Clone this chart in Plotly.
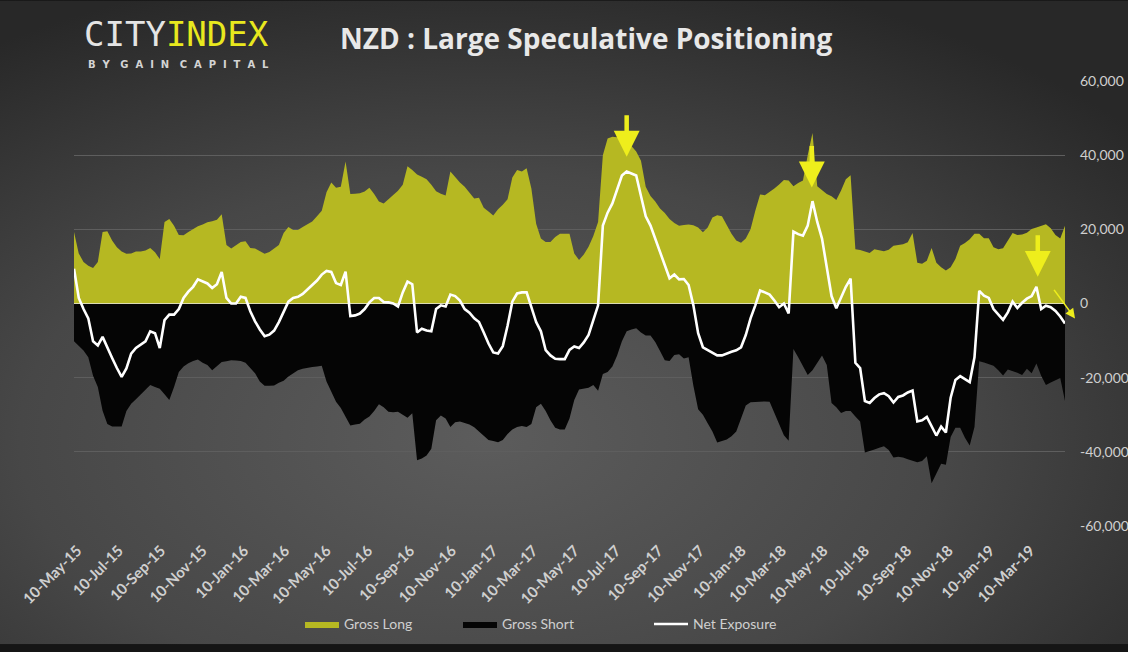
import base64
import pandas as pd
import plotly.graph_objects as go

# ---------------- data (thousands of contracts, weekly) ----------------
start_date = "2015-05-05"
n_weeks = 209
dates = pd.date_range(start_date, periods=n_weeks, freq="7D")

gross_long_k = [
    19.3, 13.5, 11.2, 10.2, 9.6, 11.2, 19.3, 19.5, 17.0, 15.2,
    14.0, 13.4, 13.5, 14.0, 14.0, 14.3, 15.0, 13.8, 12.0, 22.0,
    22.8, 21.0, 18.5, 18.4, 19.3, 20.1, 20.8, 21.3, 21.9, 22.2,
    22.6, 24.1, 15.8, 14.8, 15.6, 16.6, 16.8, 15.0, 14.8, 14.2,
    13.4, 13.9, 14.8, 15.8, 19.0, 20.6, 19.8, 19.8, 20.6, 21.3,
    22.1, 23.5, 25.0, 30.0, 32.6, 31.2, 31.5, 38.3, 29.5, 29.6,
    29.7, 30.2, 31.2, 29.5, 27.5, 27.0, 28.2, 29.3, 30.4, 32.0,
    37.0, 36.0, 34.8, 34.2, 33.5, 32.0, 30.3, 29.6, 29.1, 35.6,
    34.0, 32.6, 31.5, 30.0, 28.3, 28.5, 25.8, 24.8, 23.7, 25.4,
    26.6, 28.1, 34.0, 36.0, 35.6, 36.5, 31.0, 21.5, 17.5, 16.6,
    16.6, 17.9, 18.8, 18.8, 18.8, 13.5, 11.7, 13.2, 15.3, 18.2,
    22.0, 40.0, 44.5, 45.0, 44.8, 45.3, 44.0, 42.5, 41.0, 38.5,
    31.5, 29.0, 27.5, 25.6, 24.4, 22.8, 21.7, 21.0, 21.2, 21.3,
    21.1, 20.5, 19.2, 20.5, 23.2, 23.8, 23.5, 21.0, 18.8, 17.0,
    16.4, 17.5, 20.0, 25.0, 29.4, 29.2, 30.0, 31.0, 32.1, 33.3,
    33.2, 31.6, 32.5, 33.2, 40.0, 46.0, 31.6, 30.5, 29.5, 28.9,
    27.9, 30.5, 33.5, 34.6, 14.6, 14.4, 14.0, 13.6, 14.6, 14.3,
    14.1, 14.5, 15.6, 15.8, 16.0, 16.5, 19.0, 11.0, 10.7, 11.5,
    15.0, 11.0, 9.8, 8.9, 9.8, 12.0, 15.6, 16.3, 17.3, 18.8,
    18.8, 17.6, 17.6, 15.2, 14.6, 14.9, 16.8, 19.0, 18.5, 18.6,
    19.1, 20.1, 20.5, 21.0, 21.4, 20.3, 18.5, 17.5, 21.0,
]

gross_short_k = [
    -10.2, -11.5, -12.7, -14.5, -19.5, -22.5, -28.9, -32.5, -33.2, -33.2,
    -33.2, -29.0, -27.0, -25.8, -24.5, -23.2, -22.0, -22.5, -23.0, -24.5,
    -26.0, -22.5, -18.5, -17.0, -16.1, -15.5, -15.1, -16.0, -16.6, -18.0,
    -17.0, -15.8, -15.6, -15.3, -15.4, -15.5, -16.0, -17.3, -18.8, -21.0,
    -22.2, -22.2, -22.1, -21.4, -20.8, -19.7, -18.8, -18.0, -17.6, -17.3,
    -17.1, -17.0, -16.8, -21.0, -24.0, -26.5, -28.2, -30.5, -32.9, -32.6,
    -32.4, -31.3, -30.5, -29.0, -27.2, -28.0, -29.2, -29.3, -29.2, -30.0,
    -30.8, -29.6, -42.3, -41.8, -41.0, -39.2, -31.5, -30.2, -31.0, -33.3,
    -32.0, -31.8, -32.2, -32.6, -33.4, -34.5, -35.6, -36.8, -37.1, -37.4,
    -36.8, -35.2, -34.0, -33.3, -33.0, -33.3, -32.5, -28.0, -27.0, -29.0,
    -31.5, -33.5, -34.0, -34.0, -31.0, -26.0, -23.2, -23.0, -22.7, -22.0,
    -23.5, -19.0, -18.5, -17.0, -14.0, -10.2, -7.5, -7.0, -6.7, -7.8,
    -8.6, -8.6, -10.4, -12.8, -15.3, -15.5, -13.9, -13.7, -14.8, -14.5,
    -22.2, -28.5, -30.0, -32.3, -34.5, -37.5, -37.2, -36.7, -35.8, -34.5,
    -31.0, -27.5, -26.6, -26.5, -26.3, -26.4, -26.5, -29.5, -33.0, -35.5,
    -37.0, -12.3, -14.5, -17.0, -19.3, -18.0, -16.0, -14.0, -16.6, -26.8,
    -28.0, -29.5, -29.0, -29.0, -30.5, -31.8, -40.2, -39.9, -39.4, -38.9,
    -38.5, -39.5, -41.5, -41.3, -41.5, -42.0, -42.5, -42.8, -42.5, -41.2,
    -48.5, -46.0, -43.2, -43.5, -36.0, -33.5, -33.5, -36.2, -38.3, -33.3,
    -15.6, -15.9, -16.3, -16.8, -18.0, -19.4, -17.8, -18.2, -18.7, -19.3,
    -17.6, -18.8, -16.2, -19.5, -22.0, -21.3, -20.7, -20.1, -26.3,
]

net_exposure_k = [
    9.4, 1.5, -1.5, -4.0, -10.2, -11.3, -9.0, -12.0, -14.7, -17.4,
    -19.8, -17.5, -13.5, -12.0, -11.0, -10.2, -7.5, -8.0, -12.0, -4.5,
    -3.0, -3.0, -1.5, 1.5, 3.2, 4.5, 6.5, 6.0, 5.4, 4.2,
    5.2, 8.5, 1.5, 0.0, 0.0, 1.8, 1.5, -2.1, -4.8, -7.0,
    -8.8, -8.4, -7.3, -5.0, -2.2, 0.5, 1.5, 1.8, 2.6, 3.8,
    5.0, 6.2, 7.8, 8.8, 8.5, 5.5, 5.0, 8.6, -3.4, -3.2,
    -2.7, -1.5, 0.3, 1.5, 1.5, 0.4, 0.3, 0.0, -0.8, 3.0,
    5.9, 5.2, -7.8, -6.8, -7.3, -7.5, -1.5, -0.5, -0.8, 2.4,
    2.0, 0.8, -1.5, -2.5, -4.0, -5.0, -7.8, -10.8, -13.2, -13.5,
    -11.5, -6.0, 0.5, 2.7, 3.0, 3.0, -1.0, -5.0, -7.5, -12.6,
    -14.0, -14.9, -15.0, -15.0, -12.5, -11.6, -12.0, -10.5, -8.5, -4.8,
    -0.5, 21.0, 24.5, 27.0, 30.8, 34.5, 35.6, 35.0, 34.5, 29.0,
    23.5, 21.0, 17.5, 14.0, 10.0, 6.8, 7.8, 6.5, 6.6, 5.0,
    -0.5, -8.0, -11.8, -12.5, -13.2, -14.0, -14.0, -13.4, -13.0, -12.6,
    -11.8, -8.5, -4.0, -0.5, 3.5, 3.0, 2.4, 0.8, -1.0, 0.0,
    -2.7, 19.4, 18.7, 18.3, 21.0, 27.6, 22.0, 17.5, 10.2, 2.0,
    -1.3, 1.5, 4.5, 6.7, -16.0, -17.4, -26.3, -26.8, -25.5, -24.5,
    -24.2, -25.0, -26.7, -25.2, -24.8, -24.0, -23.5, -31.8, -31.5, -30.6,
    -33.3, -35.6, -33.2, -34.8, -25.4, -20.6, -19.6, -20.5, -21.2, -14.5,
    3.4, 2.1, 1.5, -1.5, -3.0, -4.4, -2.4, 0.5, -1.2, 0.2,
    1.3, 2.0, 4.5, -1.5, -0.6, -1.0, -2.0, -3.5, -5.4,
]

x_tick_dates = [
    "2015-05-10", "2015-07-10", "2015-09-10", "2015-11-10", "2016-01-10", "2016-03-10",
    "2016-05-10", "2016-07-10", "2016-09-10", "2016-11-10", "2017-01-10", "2017-03-10",
    "2017-05-10", "2017-07-10", "2017-09-10", "2017-11-10", "2018-01-10", "2018-03-10",
    "2018-05-10", "2018-07-10", "2018-09-10", "2018-11-10", "2019-01-10", "2019-03-10",
]
x_tick_labels = [
    "10-May-15", "10-Jul-15", "10-Sep-15", "10-Nov-15", "10-Jan-16", "10-Mar-16",
    "10-May-16", "10-Jul-16", "10-Sep-16", "10-Nov-16", "10-Jan-17", "10-Mar-17",
    "10-May-17", "10-Jul-17", "10-Sep-17", "10-Nov-17", "10-Jan-18", "10-Mar-18",
    "10-May-18", "10-Jul-18", "10-Sep-18", "10-Nov-18", "10-Jan-19", "10-Mar-19",
]
y_tick_vals = [-60, -40, -20, 0, 20, 40, 60]
y_tick_labels = ["-60,000", "-40,000", "-20,000", "0", "20,000", "40,000", "60,000"]

# highlighted peaks (arrow tips): date, value (thousands)
arrow_dates = ["2017-07-25", "2018-04-23", "2019-03-21"]
arrow_values = [39.6, 31.3, 7.2]

# ---------------- style ----------------
W, H = 1128, 652
ML, MR, MT, MB = 74, 63, 81, 123
PW, PH = W - ML - MR, H - MT - MB

LONG_COLOR = "#b6b822"
SHORT_COLOR = "#050505"
ARROW_COLOR = "#eeee1c"
TEXT_COLOR = "#cfcfcf"
FONT = "Lato"


def px_to_paper(px, py):
    return (px - ML) / PW, (H - MB - py) / PH


svg = (
    "<svg xmlns='http://www.w3.org/2000/svg' width='1128' height='648'>"
    "<defs><radialGradient id='g' cx='0.43' cy='0.68' r='0.75'>"
    "<stop offset='0' stop-color='#5c5c5c'/>"
    "<stop offset='0.55' stop-color='#474747'/>"
    "<stop offset='1' stop-color='#282828'/>"
    "</radialGradient></defs>"
    "<rect width='1128' height='648' fill='url(#g)'/></svg>"
)
bg_uri = "data:image/svg+xml;base64," + base64.b64encode(svg.encode()).decode()

fig = go.Figure()

fig.add_trace(go.Scatter(
    x=dates, y=gross_long_k, name="Gross Long", mode="lines", legend="legend",
    line=dict(width=0, color=LONG_COLOR), fill="tozeroy", fillcolor=LONG_COLOR,
))
fig.add_trace(go.Scatter(
    x=dates, y=gross_short_k, name="Gross Short", mode="lines", legend="legend2",
    line=dict(width=0, color=SHORT_COLOR), fill="tozeroy", fillcolor=SHORT_COLOR,
))
# zero reference line between the two areas
fig.add_trace(go.Scatter(
    x=[dates[0], dates[-1]], y=[0, 0], mode="lines", showlegend=False,
    hoverinfo="skip", line=dict(width=1.2, color="#dcdcb4"),
))
fig.add_trace(go.Scatter(
    x=dates, y=net_exposure_k, name="Net Exposure", mode="lines", legend="legend3",
    line=dict(width=2.6, color="#ffffff"),
))

annotations = []
for d, v in zip(arrow_dates, arrow_values):
    annotations.append(dict(
        x=d, y=v, xref="x", yref="y", text="", showarrow=True,
        ax=0, ay=-43, axref="pixel", ayref="pixel",
        arrowhead=2, arrowsize=1.15, arrowwidth=4.5, arrowcolor=ARROW_COLOR,
    ))
tx, ty = px_to_paper(1075, 320)
annotations.append(dict(
    x=tx, y=ty, xref="paper", yref="paper", text="", showarrow=True,
    ax=-22, ay=-30, arrowhead=2, arrowsize=1.2, arrowwidth=1.6, arrowcolor=ARROW_COLOR,
))

lx, ly = px_to_paper(82, 34)
annotations.append(dict(
    x=lx, y=ly, xref="paper", yref="paper", xanchor="left", yanchor="middle",
    showarrow=False,
    text="CITY<span style='color:#e8e81e'>INDEX</span>",
    font=dict(family="DejaVu Sans Mono", size=34, color="#e4e4e4"),
))
bx, by = px_to_paper(86, 57)
gap = "&nbsp;&nbsp;"
word_gap = "&nbsp;&nbsp;&nbsp;"
sub_text = word_gap.join(gap.join(list(w)) for w in ["BY", "GAIN", "CAPITAL"])
annotations.append(dict(
    x=bx, y=by, xref="paper", yref="paper", xanchor="left", yanchor="top",
    showarrow=False, text=sub_text,
    font=dict(family="DejaVu Sans", size=10, color="#d4d4d4", weight="bold"),
))
ttx, tty = px_to_paper(586, 38)
annotations.append(dict(
    x=ttx, y=tty, xref="paper", yref="paper", xanchor="center", yanchor="middle",
    showarrow=False, text="NZD : Large Speculative Positioning",
    font=dict(family="Open Sans", size=28, color="#e8e8e8", weight="bold"),
))

legend_style = dict(
    orientation="h", xanchor="left", yanchor="middle",
    y=px_to_paper(0, 628)[1],
    font=dict(family=FONT, size=14, color=TEXT_COLOR),
    bgcolor="rgba(0,0,0,0)", itemwidth=34,
)

img_x, img_y = px_to_paper(0, 0)
fig.update_layout(
    width=W, height=H, autosize=False,
    margin=dict(l=ML, r=MR, t=MT, b=MB, pad=0),
    paper_bgcolor="#151515",
    plot_bgcolor="rgba(0,0,0,0)",
    font=dict(family=FONT, color=TEXT_COLOR),
    images=[dict(
        source=bg_uri, xref="paper", yref="paper", x=img_x, y=img_y,
        sizex=W / PW, sizey=648 / PH, xanchor="left", yanchor="top",
        sizing="stretch", layer="below",
    )],
    annotations=annotations,
    showlegend=True,
    legend=dict(legend_style, x=px_to_paper(300, 0)[0]),
    legend2=dict(legend_style, x=px_to_paper(458, 0)[0]),
    legend3=dict(legend_style, x=px_to_paper(649, 0)[0]),
    xaxis=dict(
        type="date", range=[dates[0], dates[-1]], automargin=False,
        tickvals=x_tick_dates, ticktext=x_tick_labels, tickangle=-45,
        tickfont=dict(family=FONT, size=15, color=TEXT_COLOR, weight="bold"),
        showgrid=False, zeroline=False, showline=False, ticks="",
        ticklabelstandoff=12,
    ),
    yaxis=dict(
        side="right", range=[-60, 60], tickvals=y_tick_vals, ticktext=y_tick_labels,
        automargin=False,
        tickfont=dict(family=FONT, size=14, color=TEXT_COLOR),
        showgrid=True, gridcolor="#5e5e5e", gridwidth=1, zeroline=False,
        showline=False, ticks="", ticklabelstandoff=14,
    ),
)

fig.write_html(
    "out.html",
    config={"displayModeBar": False},
    post_script="document.body.style.margin='0';document.body.style.overflow='hidden';"
                "document.body.style.background='#151515';",
)
